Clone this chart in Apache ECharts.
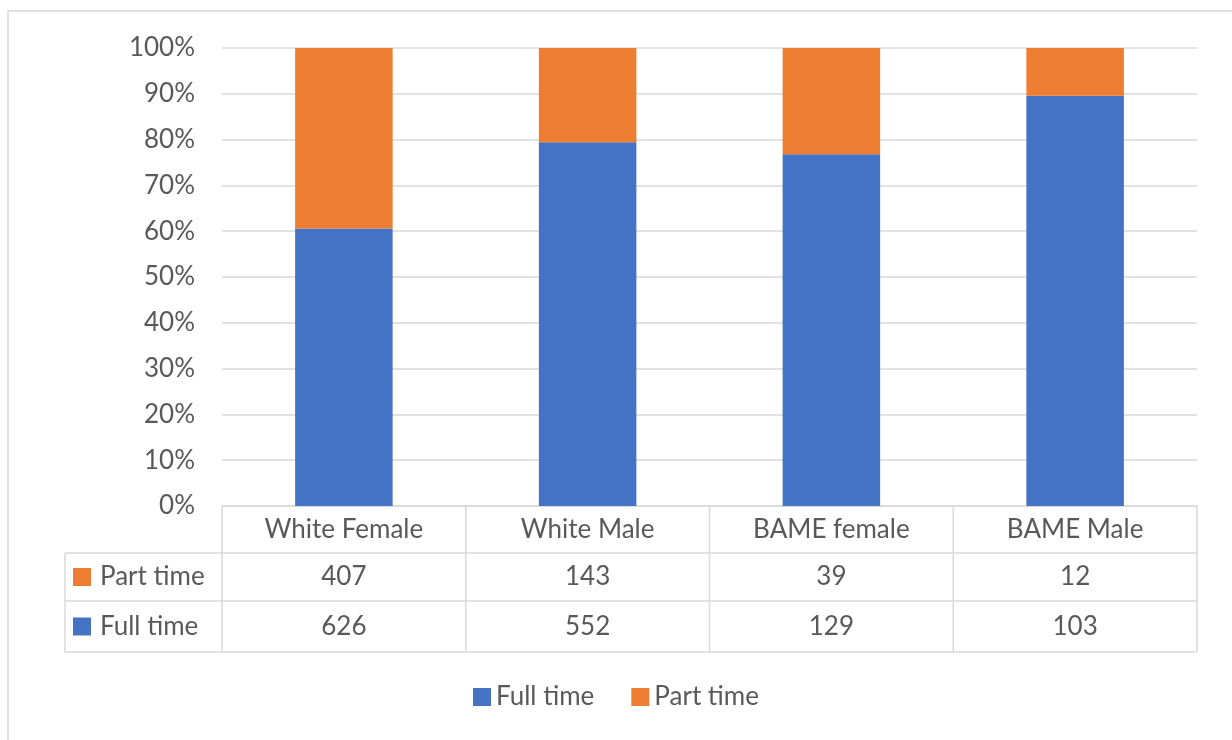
<!DOCTYPE html>
<html>
<head>
<meta charset="utf-8">
<script src="https://cdn.jsdelivr.net/npm/echarts@6/dist/echarts.min.js"></script>
<style>
html,body{margin:0;padding:0;background:#fff;}
#main{width:1232px;height:740px;}
</style>
</head>
<body>
<div id="main"></div>
<script>
const categories = ['White Female', 'White Male', 'BAME female', 'BAME Male'];
const seriesNames = ['Full time', 'Part time'];
const fullTime = [626, 552, 129, 103];
const partTime = [407, 143, 39, 12];
const yTickStep = 10;

const fullPct = fullTime.map((v, i) => v / (v + partTime[i]) * 100);
const partPct = partTime.map((v, i) => v / (fullTime[i] + v) * 100);

const FONT = 'Lato';
const FS = 26;
const TXT = '#595959';
const LINE = '#d9d9d9';
const BLUE = '#4472C4';
const ORANGE = '#ED7D31';

const chart = echarts.init(document.getElementById('main'));
chart.setOption({
  animation: false,
  textStyle: { fontFamily: FONT },
  grid: { left: 222, right: 35, top: 48, bottom: 234 },
  legend: {
    data: seriesNames,
    top: 679,
    left: 'center',
    icon: 'rect',
    itemWidth: 18,
    itemHeight: 18,
    itemGap: 37,
    textStyle: { fontSize: FS, color: TXT, fontFamily: FONT }
  },
  xAxis: {
    type: 'category',
    data: categories,
    axisLine: { show: false },
    axisTick: { show: false },
    axisLabel: { show: false }
  },
  yAxis: {
    type: 'value',
    min: 0, max: 100, interval: yTickStep,
    axisLine: { show: false },
    axisTick: { show: false },
    axisLabel: { formatter: '{value}%', fontSize: FS, color: TXT, margin: 27, fontFamily: FONT },
    splitLine: { lineStyle: { color: LINE, width: 1.5 } }
  },
  series: [
    { name: 'Full time', type: 'bar', stack: 's', barWidth: '40%', data: fullPct, itemStyle: { color: BLUE } },
    { name: 'Part time', type: 'bar', stack: 's', barWidth: '40%', data: partPct, itemStyle: { color: ORANGE } }
  ]
});

// Data table
const cx = categories.map((c, i) => chart.convertToPixel({ xAxisIndex: 0 }, i));
const band = cx[1] - cx[0];
const left = cx[0] - band / 2;
const right = cx[cx.length - 1] + band / 2;
const y0 = chart.convertToPixel({ yAxisIndex: 0 }, 0);
const rowY = [y0, y0 + 47, y0 + 95, y0 + 146];
const tableLeft = 65;
const els = [];
const line = (x1, y1, x2, y2) => els.push({ type: 'line', shape: { x1, y1, x2, y2 }, style: { stroke: LINE, lineWidth: 1.5 }, silent: true });

// outer frame
els.push({ type: 'rect', shape: { x: 8, y: 11, width: 1240, height: 750 }, style: { fill: null, stroke: LINE, lineWidth: 1.5 }, silent: true });

line(left, rowY[0], right, rowY[0]);
line(tableLeft, rowY[1], right, rowY[1]);
line(tableLeft, rowY[2], right, rowY[2]);
line(tableLeft, rowY[3], right, rowY[3]);
line(tableLeft, rowY[1], tableLeft, rowY[3]);
for (let i = 0; i <= categories.length; i++) {
  const x = left + i * band;
  line(x, rowY[0], x, rowY[3]);
}
const txt = (x, y, t, align) => els.push({ type: 'text', x, y, style: { text: t, fill: TXT, font: FS + 'px ' + FONT, align: align || 'center', verticalAlign: 'middle' }, silent: true });
categories.forEach((c, i) => {
  txt(cx[i], (rowY[0] + rowY[1]) / 2, c);
  txt(cx[i], (rowY[1] + rowY[2]) / 2, String(partTime[i]));
  txt(cx[i], (rowY[2] + rowY[3]) / 2, String(fullTime[i]));
});
const rowSeries = [[seriesNames[1], ORANGE, (rowY[1] + rowY[2]) / 2], [seriesNames[0], BLUE, (rowY[2] + rowY[3]) / 2]];
rowSeries.forEach(([n, col, yc]) => {
  els.push({ type: 'rect', shape: { x: 73, y: yc - 9, width: 18, height: 18 }, style: { fill: col }, silent: true });
  txt(100, yc, n, 'left');
});
chart.setOption({ graphic: els });
</script>
</body>
</html>
